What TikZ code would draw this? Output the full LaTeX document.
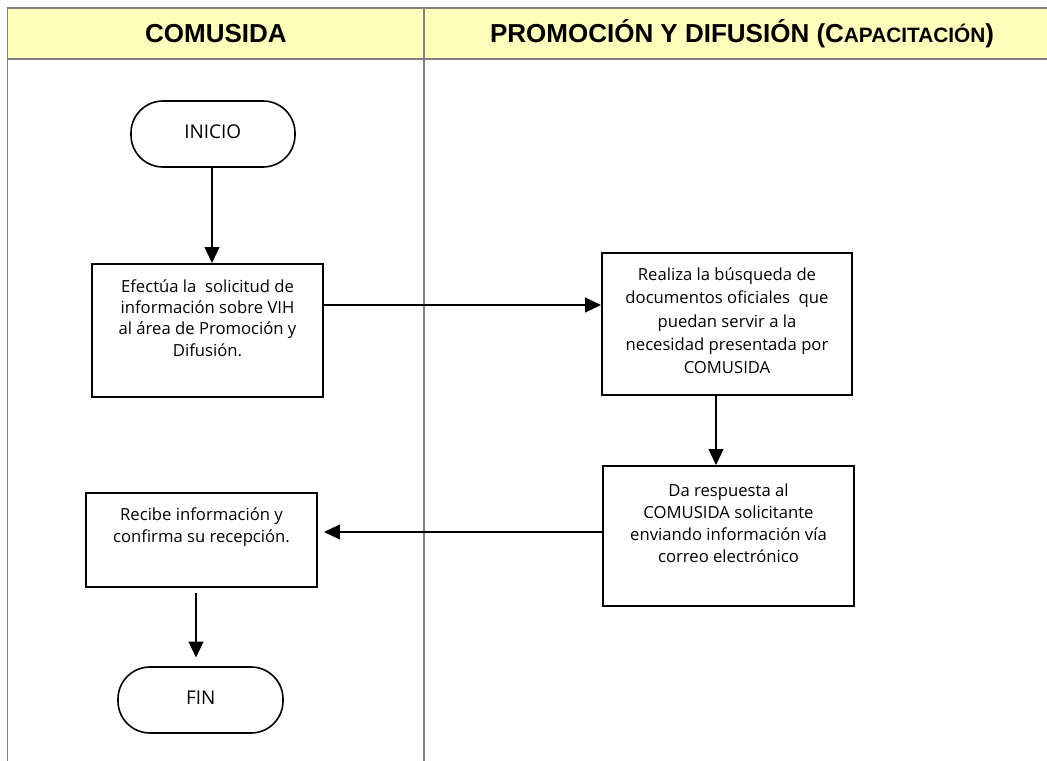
\documentclass[tikz,border=0pt]{standalone}
\usepackage{fontspec}
\setmainfont{Open Sans}
\newfontfamily\hdrfont{Liberation Sans}
\usetikzlibrary{arrows.meta,fit}
\definecolor{hdryellow}{RGB}{255,255,187}
\definecolor{gridgray}{RGB}{128,128,128}
\tikzset{
  lane/.style={draw=gridgray, line width=1.3pt},
  hdr/.style={font=\hdrfont\bfseries\fontsize{19.5}{22}\selectfont, inner sep=0pt},
  procbox/.style={draw=black, line width=1.4pt, inner sep=0pt},
  term/.style={draw=black, line width=1.2pt, inner sep=0pt, rounded corners=24pt},
  termtxt/.style={inner sep=0pt, font=\fontsize{14.2}{17}\selectfont},
  txt/.style={align=center, inner sep=0pt, font=\fontsize{12.5}{16}\selectfont},
  arr/.style={draw=black, line width=1.5pt, -{Triangle[length=12pt,width=11pt]}},
}
\begin{document}
\begin{tikzpicture}[x=0.75pt,y=-0.75pt]
\useasboundingbox (0,0) rectangle (1047,761);
% header band
\fill[hdryellow] (7.5,8) rectangle (1047,59);
\draw[lane] (1047,8) -- (7.5,8) -- (7.5,761);
\draw[lane] (7.5,59) -- (1047,59);
\draw[lane] (423.7,8) -- (423.7,761);
\node[hdr] (h1) at (216,34) {COMUSIDA};
\node[hdr] (h2) at (742,34) {PROMOCIÓN Y DIFUSIÓN (C{\fontsize{15.6}{18}\selectfont APACITACIÓN})};
% terminals
\node[term, fit={(131,101)(295,167)}] (inicio) {};
\node[termtxt] (tinicio) at (212.7,132) {INICIO};
\node[term, fit={(118,667)(283,733)}] (fin) {};
\node[termtxt] (tfin) at (200.7,698) {FIN};
% process boxes
\node[procbox, fit={(92,264)(323,397)}] (b1) {};
\node[txt] (t1) at (207.5,318) {Efectúa la~ solicitud de\\información sobre VIH\\al área de Promoción y\\Difusión.};
\node[procbox, fit={(602,253)(852,395)}] (b2) {};
\node[txt, font=\fontsize{12.5}{17.5}\selectfont] (t2) at (727,321) {Realiza la búsqueda de\\documentos oficiales~ que\\puedan servir a la\\necesidad presentada por\\COMUSIDA};
\node[procbox, fit={(603,466)(854,606)}] (b3) {};
\node[txt, font=\fontsize{12.5}{16.6}\selectfont] (t3) at (728.5,523) {Da respuesta al\\COMUSIDA solicitante\\enviando información vía\\correo electrónico};
\node[procbox, fit={(86,493)(317,587)}] (b4) {};
\node[txt] (t4) at (201.5,527) {Recibe información y\\confirma su recepción.};
% connector guides
\coordinate (y1) at (0,305);
\coordinate (x2) at (716,0);
\coordinate (y3) at (0,532);
\coordinate (x4) at (196,0);
\coordinate (x0) at (212,0);
% connectors
\draw[arr] (inicio.south -| x0) -- (b1.north -| x0);
\draw[arr] (b1.east |- y1) -- (b2.west |- y1);
\draw[arr] (b2.south -| x2) -- (b3.north -| x2);
\draw[arr, shorten >=4.5pt] (b3.west |- y3) -- (b4.east |- y3);
\draw[arr, shorten <=3.5pt, shorten >=6.5pt] (b4.south -| x4) -- (fin.north -| x4);
\end{tikzpicture}
\end{document}
